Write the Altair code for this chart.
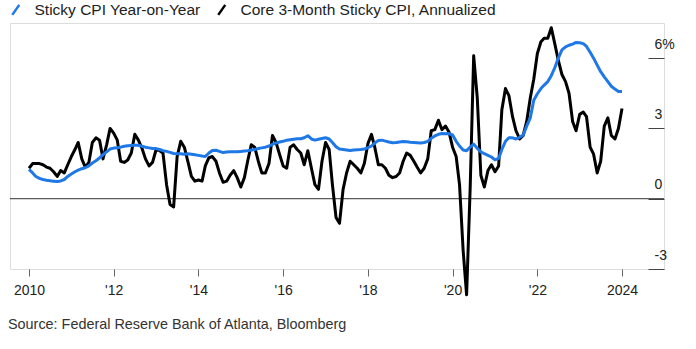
import altair as alt
import pandas as pd

# Monthly observations, Jan 2010 .. Jan 2024
sticky_yoy = [
    1.25, 1.10, 0.95, 0.87, 0.82, 0.79, 0.77, 0.75, 0.73, 0.76, 0.82, 0.95,   # 2010
    1.05, 1.15, 1.22, 1.28, 1.32, 1.40, 1.52, 1.62, 1.74, 1.88, 2.00, 2.12,   # 2011
    2.16, 2.18, 2.20, 2.24, 2.26, 2.27, 2.28, 2.28, 2.24, 2.20, 2.17, 2.14,   # 2012
    2.14, 2.10, 2.05, 2.02, 1.98, 1.93, 1.92, 1.92, 1.90, 1.92, 1.90, 1.88,   # 2013
    1.85, 1.82, 1.80, 1.95, 2.06, 2.07, 2.02, 1.97, 1.99, 2.00, 2.00, 2.00,   # 2014
    2.02, 2.04, 2.05, 2.08, 2.10, 2.14, 2.17, 2.20, 2.25, 2.32, 2.38, 2.42,   # 2015
    2.45, 2.50, 2.52, 2.54, 2.56, 2.56, 2.60, 2.69, 2.55, 2.50, 2.54, 2.57,   # 2016
    2.60, 2.55, 2.40, 2.22, 2.12, 2.10, 2.08, 2.06, 2.08, 2.09, 2.10, 2.12,   # 2017
    2.18, 2.25, 2.38, 2.48, 2.50, 2.46, 2.42, 2.39, 2.40, 2.42, 2.44, 2.43,   # 2018
    2.41, 2.40, 2.39, 2.38, 2.40, 2.45, 2.58, 2.68, 2.75, 2.78, 2.77, 2.78,   # 2019
    2.72, 2.45, 2.25, 2.08, 2.05, 2.20, 2.33, 2.15, 2.00, 1.92, 1.85, 1.78,   # 2020
    1.66, 1.72, 2.10, 2.45, 2.60, 2.60, 2.55, 2.62, 2.72, 3.10, 3.45, 4.20,   # 2021
    4.48, 4.70, 4.85, 5.00, 5.25, 5.60, 6.00, 6.35, 6.48, 6.55, 6.60, 6.67,   # 2022
    6.66, 6.62, 6.50, 6.25, 6.00, 5.70, 5.42, 5.20, 5.00, 4.80, 4.68, 4.58,   # 2023
    4.58,                                                                     # 2024
]

core_3m = [
    1.30, 1.50, 1.50, 1.50, 1.45, 1.35, 1.30, 1.15, 0.95, 1.20, 1.10, 1.45,   # 2010
    1.80, 2.10, 2.40, 1.70, 1.35, 1.55, 2.40, 2.60, 2.50, 1.70, 2.30, 3.00,   # 2011
    2.80, 2.50, 1.60, 1.55, 1.65, 1.95, 2.75, 2.50, 2.15, 1.70, 1.40, 1.55,   # 2012
    2.10, 2.05, 1.95, 0.60, -0.25, -0.35, 1.80, 2.45, 2.20, 1.60, 0.95, 0.75, # 2013
    0.80, 0.75, 1.40, 1.75, 1.80, 1.60, 1.10, 0.70, 0.75, 1.00, 1.20, 0.90,   # 2014
    0.50, 0.90, 1.60, 2.30, 2.20, 1.60, 1.10, 1.10, 1.50, 2.70, 2.40, 1.90,   # 2015
    1.40, 1.30, 2.20, 2.30, 2.10, 1.95, 1.45, 2.05, 1.30, 0.60, 0.40, 1.60,   # 2016
    2.40, 2.10, 0.60, -0.80, -1.05, 0.40, 1.10, 1.60, 1.45, 1.30, 1.10, 1.50, # 2017
    2.35, 2.75, 2.20, 1.45, 1.45, 1.30, 1.00, 0.90, 0.95, 1.10, 1.60, 1.95,   # 2018
    1.85, 1.60, 1.35, 1.10, 1.30, 1.70, 2.90, 2.95, 3.35, 2.95, 3.10, 2.85,   # 2019
    2.20, 1.80, 0.60, -2.20, -4.10, 0.50, 6.10, 4.30, 1.00, 0.50, 1.20, 1.45, # 2020
    1.15, 1.40, 3.80, 4.70, 4.40, 3.50, 2.90, 2.55, 2.70, 3.30, 4.30, 5.10,   # 2021
    6.20, 6.70, 6.85, 6.85, 7.30, 6.60, 5.90, 5.30, 5.00, 4.50, 3.30, 2.90,   # 2022
    3.60, 3.70, 3.50, 2.20, 1.90, 1.10, 1.60, 3.10, 3.45, 2.70, 2.55, 3.00,   # 2023
    3.85,                                                                     # 2024
]

series_names = ["Sticky CPI Year-on-Year", "Core 3-Month Sticky CPI, Annualized"]
series_colors = ["#1e78e6", "#000000"]
tick_years = [2010, 2012, 2014, 2016, 2018, 2020, 2022, 2024]
y_ticks = [-3, 0, 3, 6]

dates = pd.date_range("2010-01-01", periods=len(sticky_yoy), freq="MS").strftime("%Y-%m-%d")
df = pd.concat([
    pd.DataFrame({"date": dates, "value": sticky_yoy, "series": series_names[0]}),
    pd.DataFrame({"date": dates, "value": core_3m, "series": series_names[1]}),
])

FONT = "Liberation Sans"

x_scale = alt.Scale(
    type="utc",
    domain=[alt.DateTime(year=2009, month=7, date=21, utc=True),
            alt.DateTime(year=2024, month=12, date=28, utc=True)],
)
y_scale = alt.Scale(domain=[-3, 7.5], nice=False, zero=False)

x_enc = alt.X(
    "date:T", scale=x_scale, title=None,
    axis=alt.Axis(
        values=[alt.DateTime(year=y, month=1, date=1, utc=True) for y in tick_years],
        labelExpr="(utcyear(datum.value) == 2010 || utcyear(datum.value) == 2024) ? utcFormat(datum.value, '%Y') : \"'\" + utcFormat(datum.value, '%y')",
        domain=False, grid=False, ticks=True, tickSize=7, tickColor="#666",
        labelFontSize=14, labelFont=FONT, labelColor="#222", labelPadding=7,
    ),
)
y_enc = alt.Y(
    "value:Q", scale=y_scale, title=None,
    axis=alt.Axis(
        orient="right", values=y_ticks, offset=-16, tickSize=16, tickColor="#444",
        domain=False, grid=False,
        labelExpr="datum.value == 6 ? '6%' : (datum.value == -3 ? '-3' : datum.label)",
        labelAlign="left", labelBaseline="alphabetic", labelOffset=-10, labelPadding=-10,
        labelFontSize=14, labelFont=FONT, labelColor="#222",
    ),
)
color_enc = alt.Color(
    "series:N",
    scale=alt.Scale(domain=series_names, range=series_colors),
    legend=alt.Legend(
        orient="none", legendX=-2, legendY=-21, direction="horizontal", title=None,
        symbolType="M-0.7,1L0.7,-1", symbolSize=100, symbolStrokeWidth=2.5,
        labelFontSize=15.5, labelFont=FONT, labelColor="#222", labelOffset=11,
        labelLimit=0, columnPadding=12, symbolFillColor="transparent",
    ),
)

zero = alt.Chart(pd.DataFrame({"value": [0]})).mark_rule(color="#333", strokeWidth=1).encode(
    y=alt.Y("value:Q", scale=y_scale)
)

black = alt.Chart(df).transform_filter(
    alt.datum.series == series_names[1]
).mark_line(strokeWidth=3, strokeJoin="round").encode(x=x_enc, y=y_enc, color=color_enc)

blue = alt.Chart(df).transform_filter(
    alt.datum.series == series_names[0]
).mark_line(strokeWidth=3, strokeJoin="round").encode(x=x_enc, y=y_enc, color=color_enc)

chart = alt.layer(zero, black, blue).properties(
    width=654, height=246,
    padding={"left": 10, "top": 23, "right": 32, "bottom": 80},
    autosize=alt.AutoSizeParams(type="none"),
    title=alt.TitleParams(
        "Source: Federal Reserve Bank of Atlanta, Bloomberg",
        orient="bottom", anchor="start", fontSize=14.4, fontWeight="normal",
        font=FONT, color="#333", offset=21,
    ),
).configure_view(stroke=None).configure(background="white")

chart.save("out.html", embed_options={"renderer": "svg", "actions": False})
